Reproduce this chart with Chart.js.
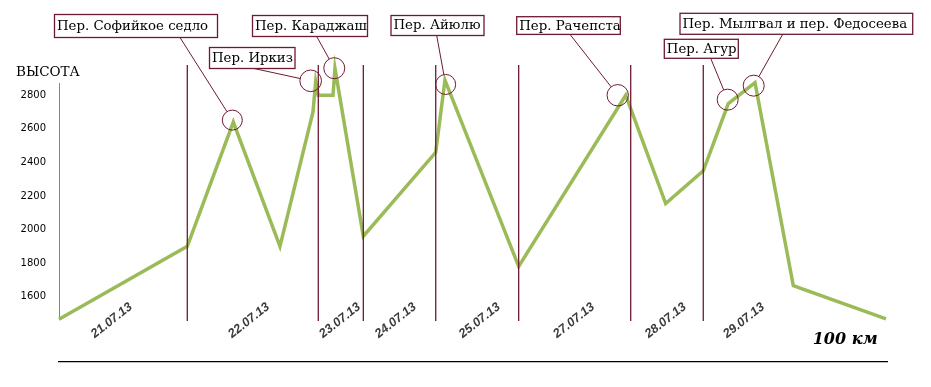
<!DOCTYPE html>
<html><head><meta charset="utf-8">
<script src="https://cdn.jsdelivr.net/npm/chart.js@4.4.1/dist/chart.umd.min.js"></script>
<style>html,body{margin:0;padding:0;background:#fff;overflow:hidden}</style>
</head><body>
<canvas id="c" width="931" height="387"></canvas>
<script>
// ---- data ----
const distKm   = [0, 15.70, 21.33, 27.04, 31.08, 31.41, 31.73, 33.53, 33.77, 37.24, 46.10, 47.23, 56.25, 69.35, 74.24, 78.84, 81.90, 85.17, 89.86, 101.2];
const altitude = [1465, 1900, 2640, 1900, 2700, 2880, 2800, 2800, 2960, 1960, 2460, 2890, 1780, 2800, 2155, 2350, 2750, 2875, 1665, 1467];
const dayBoundaryKm = [15.70, 31.73, 37.24, 46.10, 56.25, 69.96, 78.84];
const dayLabels  = ['21.07.13','22.07.13','23.07.13','24.07.13','25.07.13','27.07.13','28.07.13','29.07.13'];
const dayLabelKm = [6.45, 23.25, 34.39, 41.21, 51.48, 63.02, 74.25, 83.82];
const yTicks = [1600, 1800, 2000, 2200, 2400, 2600, 2800];
const passNames = ['Пер. Софийкое седло','Пер. Иркиз','Пер. Караджаш','Пер. Айюлю','Пер. Рачепста','Пер. Агур','Пер. Мылгвал и пер. Федосеева'];
const passPointIndex = [2, 5, 8, 11, 13, 16, 17];
const yAxisTitle = 'ВЫСОТА';
const scaleLabel = '100 км';

// ---- layout / style ----
const MAROON = '#6e1a30';
const calloutLayout = [
  {box:[54.5,14.5,163,23],   from:[180,37.5],   dx:-1,   dy:-2,   r:10},
  {box:[209.5,47.5,85.5,21], from:[254,68.5],   dx:-5,   dy:-1,   r:10.8},
  {box:[252.5,15.5,115,21],  from:[316.7,36.5], dx:-0.7, dy:-0.2, r:10.5},
  {box:[391,15.5,93,20],     from:[436.7,35.5], dx:0.7,  dy:4.3,  r:10},
  {box:[516.7,16.7,103.6,17.7], from:[570,34.4], dx:-8,  dy:0,    r:10.7},
  {box:[664.3,39.3,74,19],   from:[710.7,58.3], dx:-0.6, dy:-4,   r:10.5},
  {box:[680,13.3,232.7,21],  from:[782.7,34.3], dx:-1.3, dy:3,    r:10.5}
];

const overlay = {
  id: 'overlay',
  afterDatasetsDraw(chart) {
    const {ctx, scales: {x, y}} = chart;
    ctx.save();
    // day boundaries
    ctx.strokeStyle = MAROON; ctx.lineWidth = 1.3;
    dayBoundaryKm.forEach(k => {
      const px = x.getPixelForValue(k);
      ctx.beginPath(); ctx.moveTo(px, 65); ctx.lineTo(px, 321); ctx.stroke();
    });
    // date labels
    ctx.fillStyle = '#3b3b3b';
    ctx.font = 'italic bold 12.5px "Liberation Sans", Arial, sans-serif';
    ctx.textAlign = 'center'; ctx.textBaseline = 'middle';
    dayLabels.forEach((t, i) => {
      const px = x.getPixelForValue(dayLabelKm[i]);
      ctx.save(); ctx.translate(px, 320.5); ctx.rotate(-38.4 * Math.PI / 180);
      ctx.fillText(t, 0, 0); ctx.restore();
    });
    // callouts
    passNames.forEach((name, i) => {
      const L = calloutLayout[i];
      const idx = passPointIndex[i];
      const cx = x.getPixelForValue(distKm[idx]) + L.dx;
      const cy = y.getPixelForValue(altitude[idx]) + L.dy;
      ctx.strokeStyle = MAROON; ctx.lineWidth = 1;
      ctx.beginPath(); ctx.arc(cx, cy, L.r, 0, Math.PI * 2); ctx.stroke();
      const [fx, fy] = L.from;
      const d = Math.hypot(cx - fx, cy - fy);
      const ex = cx - (cx - fx) / d * L.r, ey = cy - (cy - fy) / d * L.r;
      ctx.beginPath(); ctx.moveTo(fx, fy); ctx.lineTo(ex, ey); ctx.stroke();
      const [bx, by, bw, bh] = L.box;
      ctx.fillStyle = '#fff'; ctx.fillRect(bx, by, bw, bh);
      ctx.lineWidth = 1.3; ctx.strokeRect(bx, by, bw, bh);
      ctx.fillStyle = '#000';
      ctx.font = '13.3px "DejaVu Serif", serif';
      ctx.textAlign = 'left'; ctx.textBaseline = 'middle';
      ctx.fillText(name, bx + 2.5, by + bh / 2 + 0.5);
    });
    // y axis title
    ctx.fillStyle = '#000';
    ctx.font = '13.5px "DejaVu Serif", serif';
    ctx.textAlign = 'left'; ctx.textBaseline = 'alphabetic';
    ctx.fillText(yAxisTitle, 16, 75.7);
    // scale label and bar
    ctx.font = 'italic bold 16px "DejaVu Serif", serif';
    ctx.fillText(scaleLabel, 812.7, 344.3);
    ctx.strokeStyle = '#000'; ctx.lineWidth = 1.3;
    ctx.beginPath(); ctx.moveTo(58, 361.7); ctx.lineTo(888, 361.7); ctx.stroke();
    ctx.restore();
  }
};

new Chart(document.getElementById('c'), {
  type: 'line',
  data: {
    datasets: [{
      data: distKm.map((k, i) => ({x: k, y: altitude[i]})),
      borderColor: '#9BBB59',
      borderWidth: 3.5,
      pointRadius: 0,
      tension: 0,
      clip: false,
      borderJoinStyle: 'miter'
    }]
  },
  options: {
    responsive: false,
    animation: false,
    devicePixelRatio: 1,
    layout: {padding: {left: 0, right: 45, top: 83, bottom: 67.7}},
    plugins: {legend: {display: false}, tooltip: {enabled: false}, title: {display: false}},
    scales: {
      x: {type: 'linear', min: 0, max: 101.2, display: false},
      y: {
        type: 'linear', min: 1465, max: 2873,
        afterBuildTicks: s => { s.ticks = yTicks.map(v => ({value: v})); },
        afterFit: s => { s.width = 59; },
        grid: {display: false, drawTicks: false},
        border: {display: true, color: '#868686', width: 1},
        ticks: {color: '#000', padding: 13, font: {family: 'DejaVu Sans', size: 10},
                callback: v => String(v)}
      }
    }
  },
  plugins: [overlay]
});
</script>
</body></html>
